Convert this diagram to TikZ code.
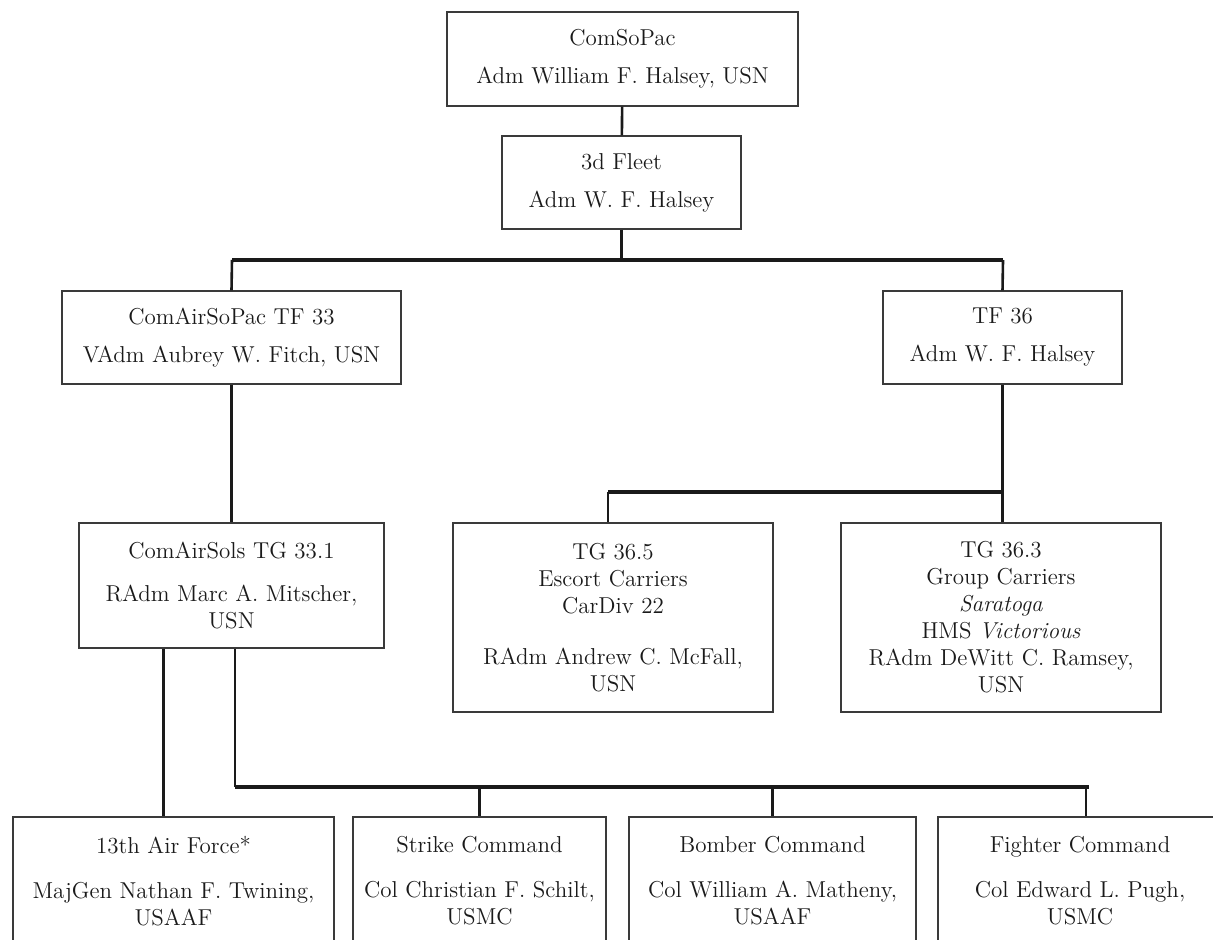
\documentclass[tikz,border=0pt]{standalone}
\usepackage{fontspec}
\usepackage{tikz}
\usetikzlibrary{positioning,calc}
\definecolor{ink}{HTML}{1A1A1A}
\definecolor{frame}{HTML}{3A3A3A}

\begin{document}
\begin{tikzpicture}[x=.5pt,y=-.5pt,
  unit/.style={draw=frame,line width=.6pt,align=center,inner sep=0pt,text=ink,font=\fontsize{11.5}{13.5}\selectfont},
  link/.style={draw=ink,line width=1.3pt},
  bar/.style={draw=ink,line width=1.6pt}]
\useasboundingbox (0,0) rectangle (1213,940);
\fill[white] (0,0) rectangle (1213,940);
\clip (0,0) rectangle (1213,940);
% command boxes
\node[unit,minimum width=175.5pt,minimum height=47pt] (sopac) at (622.5,59){ComSoPac\\[5.5pt]Adm William F. Halsey, USN};
\node[unit,minimum width=119.5pt,minimum height=46.5pt] (fleet) at (621.5,182.5){3d Fleet\\[5.5pt]Adm W. F. Halsey};
\node[unit,minimum width=169.5pt,minimum height=46.5pt] (airsopac) at (231.5,337.5){ComAirSoPac TF 33\\[5.5pt]VAdm Aubrey W. Fitch, USN};
\node[unit,minimum width=119.5pt,minimum height=46.5pt] (tf36) at (1002.5,337.5){TF 36\\[5.5pt]Adm W. F. Halsey};
\node[unit,minimum width=152.5pt,minimum height=62.5pt] (airsols) at (231.5,585.5){ComAirSols TG 33.1\\[8pt]RAdm Marc A. Mitscher,\\USN};
\node[unit,minimum width=160pt,minimum height=94.5pt] (tg365) at (613,617.5){TG 36.5\\Escort Carriers\\CarDiv 22\\[12pt]RAdm Andrew C. McFall,\\USN};
\node[unit,minimum width=160pt,minimum height=94.5pt] (tg363) at (1001,617.5){TG 36.3\\Group Carriers\\\textit{Saratoga}\\HMS \textit{Victorious}\\RAdm DeWitt C. Ramsey,\\USN};
\node[unit,minimum width=160.5pt,minimum height=64pt] (air13) at (173.5,881){13th Air Force*\\[9pt]MajGen Nathan F. Twining,\\USAAF};
\node[unit,minimum width=126.5pt,minimum height=64pt] (strike) at (479.5,881){Strike Command\\[9pt]Col Christian F. Schilt,\\USMC};
\node[unit,minimum width=143.5pt,minimum height=64pt] (bomber) at (772.5,881){Bomber Command\\[9pt]Col William A. Matheny,\\USAAF};
\node[unit,minimum width=142pt,minimum height=64pt] (fighter) at (1080,881){Fighter Command\\[9pt]Col Edward L. Pugh,\\USMC};
% junctions
\coordinate (jL) at (232,260);\coordinate (jR) at (1003,260);
\coordinate (kL) at (608,492);
\coordinate (mL) at (235,787);\coordinate (mR) at (1089,787);
% connectors
\draw[link] (sopac)--(fleet);
\draw[link] (fleet.south)--(fleet.south |- jL);\draw[bar] (jL)--(jR);
\draw[link] (jL)--(airsopac.north);\draw[link] (jR)--(tf36.north);
\draw[link] (airsopac)--(airsols);
\draw[link] (tf36.south)--(tf36.south |- tg363.north);
\draw[bar] (kL)--(tf36.south |- kL);\draw[link] (kL)--(kL |- tg365.north);
\draw[link] ([xshift=-34pt]airsols.south)--([xshift=-34pt]airsols.south |- air13.north);
\draw[link] (airsols.south -| mL)--(mL);\draw[bar] (mL)--(mR);
\foreach \n/\dx in {strike/0,bomber/0,fighter/3}
  \draw[link] ([xshift=\dx pt]\n.north |- mL)--([xshift=\dx pt]\n.north);
\end{tikzpicture}
\end{document}
